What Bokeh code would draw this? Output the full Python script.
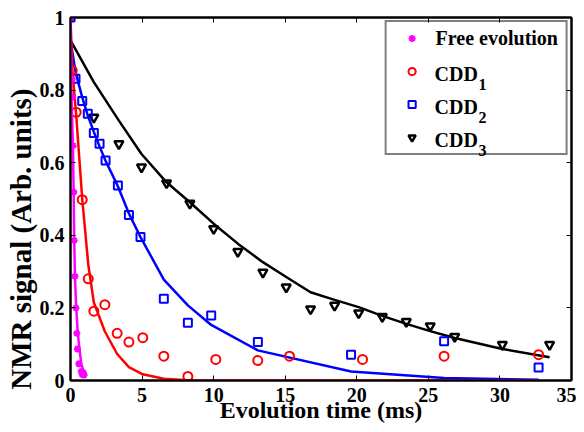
from bokeh.plotting import figure
from bokeh.models import (LinearAxis, FixedTicker, Legend, LegendItem, Label,
                          Range1d, Title)
from bokeh.embed import file_html
from bokeh.resources import INLINE

# ---- data ----
free_t = [0.0, 0.12, 0.13, 0.18, 0.23, 0.26, 0.31, 0.38, 0.44, 0.48, 0.58, 0.75, 0.82, 0.88, 0.95]
free_v = [1.0, 0.83, 0.78, 0.647, 0.519, 0.386, 0.287, 0.2, 0.13, 0.087, 0.046, 0.025, 0.016, 0.022, 0.015]
free_fit_t = [0.0, 0.07, 0.17, 0.22, 0.26, 0.31, 0.4, 0.51, 0.63, 0.75, 0.93, 1.08]
free_fit_v = [1.0, 0.78, 0.647, 0.515, 0.386, 0.287, 0.2, 0.13, 0.087, 0.046, 0.023, 0.014]

cdd1_t = [0.12, 0.4, 0.82, 1.24, 1.63, 2.4, 3.26, 4.08, 5.05, 6.52, 8.2, 10.15, 13.08, 15.3, 20.4, 26.1, 32.7]
cdd1_v = [0.854, 0.739, 0.498, 0.28, 0.191, 0.209, 0.13, 0.106, 0.118, 0.067, 0.011, 0.058, 0.055, 0.067, 0.058, 0.067, 0.071]
cdd1_fit_t = [0.0, 0.12, 0.4, 0.82, 1.24, 1.63, 2.4, 3.26, 4.08, 5.05, 6.52, 8.2, 10.15, 13.08, 15.3, 20.4, 26.1, 32.7]
cdd1_fit_v = [1.0, 0.86, 0.73, 0.5, 0.32, 0.215, 0.135, 0.073, 0.037, 0.017, 0.005, 0.001, 0.0, 0.0, 0.0, 0.0, 0.0, 0.0]

cdd2_t = [0.0, 0.35, 0.82, 1.21, 1.63, 2.03, 2.45, 3.31, 4.08, 4.89, 6.52, 8.2, 9.83, 13.09, 19.6, 26.1, 32.7]
cdd2_v = [1.0, 0.831, 0.77, 0.735, 0.682, 0.652, 0.606, 0.537, 0.456, 0.395, 0.225, 0.159, 0.179, 0.106, 0.071, 0.108, 0.036]
cdd2_fit_t = [0.0, 0.35, 0.82, 1.21, 1.63, 2.03, 2.45, 3.31, 4.08, 4.89, 6.52, 8.2, 9.83, 13.09, 19.6, 26.1, 32.7]
cdd2_fit_v = [0.937, 0.85, 0.78, 0.73, 0.685, 0.645, 0.605, 0.535, 0.46, 0.395, 0.278, 0.207, 0.153, 0.083, 0.025, 0.007, 0.002]

cdd3_t = [0.0, 1.63, 3.38, 4.96, 6.71, 8.34, 10.0, 11.69, 13.44, 15.07, 16.77, 18.45, 20.13, 21.78, 23.46, 25.13, 26.84, 30.17, 33.47]
cdd3_v = [1.0, 0.725, 0.652, 0.588, 0.544, 0.488, 0.418, 0.355, 0.298, 0.257, 0.197, 0.207, 0.186, 0.176, 0.162, 0.15, 0.121, 0.099, 0.099]
cdd3_fit_t = [0.0, 1.63, 3.38, 4.96, 6.71, 8.34, 10.0, 11.69, 13.44, 15.07, 16.77, 18.45, 20.13, 21.78, 23.46, 25.13, 26.84, 30.17, 33.47]
cdd3_fit_v = [0.937, 0.822, 0.716, 0.624, 0.546, 0.491, 0.432, 0.377, 0.326, 0.285, 0.243, 0.222, 0.202, 0.178, 0.156, 0.136, 0.117, 0.087, 0.064]

x_ticks = [0, 5, 10, 15, 20, 25, 30, 35]
y_ticks = [0, 0.2, 0.4, 0.6, 0.8, 1.0]
y_tick_labels = {0: "0", 0.2: "0.2", 0.4: "0.4", 0.6: "0.6", 0.8: "0.8", 1.0: "1"}

legend_names = ["Free evolution", "CDD", "CDD", "CDD"]
subscripts = ["1", "2", "3"]
x_title = "Evolution time (ms)"
y_title = "NMR signal (Arb. units)"

FONT = "Liberation Serif"

p = figure(width=576, height=428, x_range=Range1d(0, 35), y_range=Range1d(0, 1),
           output_backend="svg", toolbar_location=None,
           min_border_left=70, min_border_right=5, min_border_top=17, min_border_bottom=48,
           x_axis_location=None, y_axis_location=None)
p.grid.visible = False
p.outline_line_color = "black"
p.outline_line_width = 2
p.background_fill_color = "white"


def make_axis(ticks, show_labels):
    ax = LinearAxis(ticker=FixedTicker(ticks=ticks))
    ax.axis_line_width = 2
    ax.axis_line_color = "black"
    ax.major_tick_in = 5
    ax.major_tick_out = 0
    ax.major_tick_line_width = 1
    ax.minor_tick_line_color = None
    ax.major_label_text_font = FONT
    ax.major_label_text_font_style = "bold"
    ax.major_label_text_color = "black"
    ax.major_label_text_font_size = "20px"
    if not show_labels:
        ax.major_label_overrides = {t: "" for t in ticks}
        ax.major_label_standoff = 0
    return ax


xb = make_axis(x_ticks, True)
xb.major_label_standoff = 7
xb.axis_label = x_title
xb.axis_label_text_font = FONT
xb.axis_label_text_font_style = "bold"
xb.axis_label_text_font_size = "24px"
xb.axis_label_text_color = "black"
xb.axis_label_standoff = -8
yl = make_axis(y_ticks, True)
yl.major_label_standoff = 6
yl.major_label_overrides = y_tick_labels
xt = make_axis(x_ticks, False)
yr = make_axis(y_ticks, False)
p.add_layout(xb, "below")
p.add_layout(yl, "left")
p.add_layout(xt, "above")
p.add_layout(yr, "right")

yt = Title(text=y_title, align="right", offset=71, standoff=0,
           text_font=FONT, text_font_style="bold", text_font_size="29px",
           text_color="black")
p.add_layout(yt, "left")

MAG, RED, BLUE, BLK = "#ff00ff", "#ff0000", "#0000ff", "#000000"

r3 = p.scatter(cdd3_t, cdd3_v, marker="inverted_triangle", size=9, line_color=BLK,
               line_width=2.5, fill_color=None)
p.line(cdd3_fit_t, cdd3_fit_v, line_color=BLK, line_width=2.5)

r2 = p.scatter(cdd2_t, cdd2_v, marker="square", size=8, line_color=BLUE,
               line_width=2, fill_color=None)
p.line(cdd2_fit_t, cdd2_fit_v, line_color=BLUE, line_width=2.5)

r1 = p.scatter(cdd1_t, cdd1_v, marker="circle", size=9, line_color=RED,
               line_width=2, fill_color=None)
p.line(cdd1_fit_t, cdd1_fit_v, line_color=RED, line_width=2.5)

r0 = p.scatter(free_t, free_v, marker="asterisk", size=7, line_color=MAG,
               line_width=2, fill_color=None)
p.line(free_fit_t, free_fit_v, line_color=MAG, line_width=2.5)

items = [LegendItem(label=legend_names[0] + " ", renderers=[r0]),
         LegendItem(label=" ", renderers=[r1]),
         LegendItem(label=" ", renderers=[r2]),
         LegendItem(label=" ", renderers=[r3])]
legend = Legend(items=items, location="top_right", margin=3, padding=3,
                glyph_width=44, glyph_height=18, label_height=26, label_standoff=2,
                spacing=7, border_line_color="black", border_line_width=2,
                background_fill_color="white", background_fill_alpha=0.0,
                label_text_font=FONT, label_text_font_style="bold",
                label_text_font_size="20px", label_text_color="black")
p.add_layout(legend)

# subscripted legend texts (frame-relative screen units)
row_step = 33
first_center = 22  # px below frame top (margin + padding + half row)
frame_h = 363
for i in range(3):
    rc = first_center + row_step * (i + 1)
    p.add_layout(Label(x=364, y=frame_h - rc - 1, x_units="screen", y_units="screen",
                       text=legend_names[i + 1], text_font=FONT, text_font_style="bold",
                       text_font_size="20px", text_color="black", level="overlay",
                       text_align="left", text_baseline="alphabetic"))
    p.add_layout(Label(x=408, y=frame_h - rc - 12, x_units="screen", y_units="screen",
                       text=subscripts[i], text_font=FONT, text_font_style="bold",
                       text_font_size="16px", text_color="black", level="overlay",
                       text_align="left", text_baseline="alphabetic"))

open("out.html", "w").write(file_html(p, INLINE))
